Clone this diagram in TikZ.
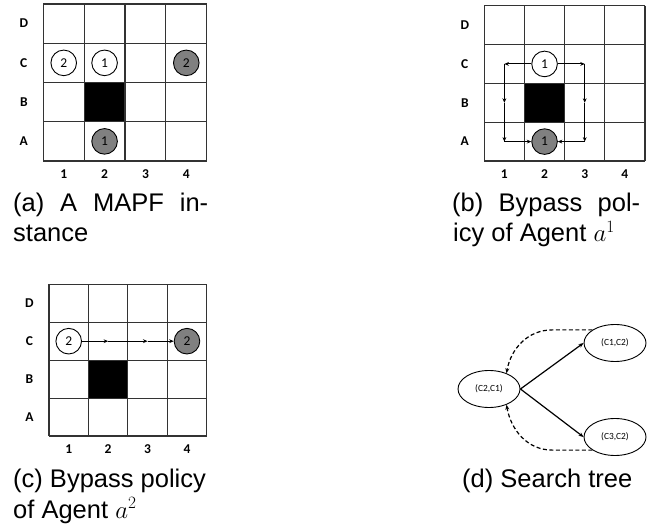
\documentclass[tikz,border=0pt]{standalone}
\usepackage{fontspec}
\setmainfont{Liberation Sans}
\newfontfamily\calib{Carlito}
\usetikzlibrary{arrows.meta,shapes.geometric}

\tikzset{
  gridline/.style={draw=black!80, line width=1.1pt},
  gridlab/.style={inner sep=0, font=\calib\bfseries\fontsize{13.5}{15}\selectfont},
  agent/.style={circle, draw=black, line width=0.9pt, minimum size=25.6pt, inner sep=0, fill=white, font=\calib\fontsize{13.5}{15}\selectfont},
  goal/.style={agent, fill=black!50},
  garr/.style={-{Stealth[length=4.5pt,width=3.8pt]}, line width=0.9pt},
  captxt/.style={inner sep=0, anchor=base west, font=\fontsize{25.5}{30}\selectfont},
  state/.style={ellipse, draw, line width=0.9pt, minimum width=62pt, minimum height=37pt, inner sep=0, font=\calib\fontsize{9.4}{11}\selectfont},
  tarr/.style={-{Stealth[length=5pt,width=4pt]}, line width=1.2pt},
  darr/.style={-{Stealth[length=5pt,width=4pt]}, line width=1.2pt, dash pattern=on 4pt off 2.5pt}
}

\newcommand\drawgrid[5]{% prefix, x0, ytop, w, h
  \fill[black] ({#2+#4},{#3-2*#5}) rectangle ({#2+2*#4},{#3-3*#5});
  \foreach \ii in {0,...,4}{
    \draw[gridline] ({#2+\ii*#4},#3) -- ({#2+\ii*#4},{#3-4*#5});
    \draw[gridline] (#2,{#3-\ii*#5}) -- ({#2+4*#4},{#3-\ii*#5});
  }
  \foreach \rw [count=\kk from 0] in {D,C,B,A}{
    \node[gridlab] (#1lab\rw) at ({#2-19.5},{#3-(\kk+0.5)*#5}) {\rw};
    \foreach \cl in {1,...,4}{
      \coordinate (#1\rw\cl) at ({#2+(\cl-0.5)*#4},{#3-(\kk+0.5)*#5});
    }
  }
  \foreach \cl in {1,...,4}{
    \node[gridlab] (#1col\cl) at ({#2+(\cl-0.5)*#4},{#3-4*#5-13.5}) {\cl};
  }
}

\begin{document}
\begin{tikzpicture}[x=1pt,y=1pt]
\useasboundingbox (0,0) rectangle (666,527);

% (a)
\drawgrid{a}{43.3}{523}{40.85}{39.25}
\node[agent] (a2s) at (aC1) {2};
\node[agent] (a1s) at (aC2) {1};
\node[goal] (a2g) at (aC4) {2};
\node[goal] (a1g) at (aA2) {1};

% (b)
\drawgrid{b}{484.3}{521.3}{40.17}{38.83}
\node[agent] (b1s) at (bC2) {1};
\node[goal] (b1g) at (bA2) {1};
\draw[garr] (b1s) -- (bC1);
\draw[garr] (bC1) -- (bB1);
\draw[garr] (bB1) -- (bA1);
\draw[garr] (bA1) -- (b1g);
\draw[garr] (b1s) -- (bC3);
\draw[garr] (bC3) -- (bB3);
\draw[garr] (bB3) -- (bA3);
\draw[garr] (bA3) -- (b1g);

% (c)
\drawgrid{c}{49}{242.7}{39.42}{37.93}
\node[agent] (c2s) at (cC1) {2};
\node[goal] (c2g) at (cC4) {2};
\draw[garr] (c2s) -- (cC2);
\draw[garr] (cC2) -- (cC3);
\draw[garr] (cC3) -- (c2g);

% (d)
\node[state] (s21) at (489,138) {(C2,C1)};
\node[state] (s12) at (615,184) {(C1,C2)};
\node[state] (s32) at (615,90) {(C3,C2)};
\draw[tarr] (s21.east) -- (s12.west);
\draw[tarr] (s21.east) -- (s32.west);
\draw[darr] (s12.150) -- ++(-40,0) to[out=180,in=80] (s21.42);
\draw[darr] (s32.210) -- ++(-40,0) to[out=180,in=-80] (s21.-42);

% captions
\node[captxt] (capa1) at (13,315.3) {\makebox[195pt][s]{(a) A MAPF in-}};
\node[captxt] (capa2) at (13,285.3) {stance};
\node[captxt] (capb1) at (452,315.3) {\makebox[188pt][s]{(b) Bypass pol-}};
\node[captxt] (capb2) at (453,285.3) {icy of Agent $a^1$};
\node[captxt] (capc1) at (13,39) {(c) Bypass policy};
\node[captxt] (capc2) at (13,9) {of Agent $a^2$};
\node[captxt] (capd) at (462,39) {(d) Search tree};
\end{tikzpicture}
\end{document}
